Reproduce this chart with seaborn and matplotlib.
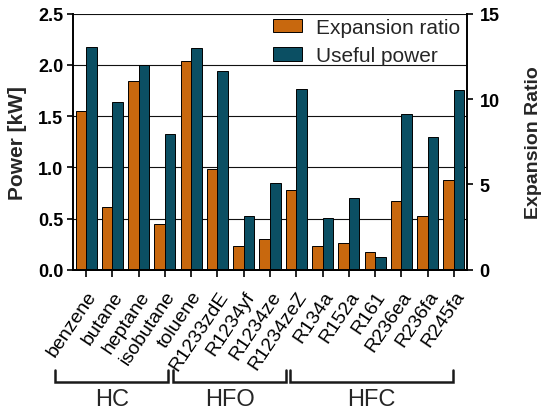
import numpy as np
import pandas as pd
import matplotlib
matplotlib.use("Agg")
import matplotlib.pyplot as plt
import seaborn as sns
from matplotlib.patches import Patch
from matplotlib.transforms import blended_transform_factory

# ---- data ----
fluids = ["benzene", "butane", "heptane", "isobutane", "toluene",
          "R1233zdE", "R1234yf", "R1234ze", "R1234zeZ",
          "R134a", "R152a", "R161", "R236ea", "R236fa", "R245fa"]
useful_power = [2.175, 1.638, 1.996, 1.325, 2.165,
                1.94, 0.521, 0.846, 1.768,
                0.505, 0.70, 0.124, 1.517, 1.296, 1.752]
expansion_ratio = [9.32, 3.67, 11.04, 2.66, 12.21,
                   5.92, 1.39, 1.82, 4.67,
                   1.37, 1.55, 1.02, 4.0, 3.13, 5.25]
groups = ["HC", "HFO", "HFC"]
group_spans = [(-1.18, 3.13), (3.32, 7.60), (7.76, 13.97)]
series_names = ["Expansion ratio", "Useful power"]
left_ticks = [0.0, 0.5, 1.0, 1.5, 2.0, 2.5]
right_ticks = [0, 5, 10, 15]

ORANGE = "#C8680E"
TEAL = "#0B4F63"

sns.set_style("white")
plt.rcParams["font.family"] = ["Liberation Sans", "DejaVu Sans"]

n = len(fluids)
df = pd.DataFrame({
    "fluid": fluids * 2,
    "series": [series_names[0]] * n + [series_names[1]] * n,
    "power": [np.nan] * n + useful_power,
    "ratio": expansion_ratio + [np.nan] * n,
})
palette = {series_names[0]: ORANGE, series_names[1]: TEAL}

fig = plt.figure(figsize=(5.45, 4.14), dpi=100)
ax = fig.add_axes([73 / 545, 1 - 270.7 / 414, 394 / 545, 256 / 414])
ax2 = ax.twinx()

common = dict(x="fluid", hue="series", hue_order=series_names, order=fluids,
              palette=palette, edgecolor="black", linewidth=0.7,
              saturation=1, legend=False, errorbar=None, width=0.8)
sns.barplot(data=df, y="power", ax=ax, **common)
sns.barplot(data=df, y="ratio", ax=ax2, **common)

ax.set_xlim(-0.5, n - 0.5)
ax.set_ylim(0, 2.5)
ax2.set_ylim(0, 15)
ax.set_yticks(left_ticks)
ax.set_yticklabels([f"{t:.1f}" for t in left_ticks])
ax2.set_yticks(right_ticks)
ax2.set_yticklabels([str(t) for t in right_ticks])

ax.yaxis.grid(True, color="#111111", linewidth=0.8)
ax.xaxis.grid(False)
ax.set_axisbelow(True)

for a in (ax, ax2):
    for s in ("left", "right", "bottom"):
        a.spines[s].set_visible(True)
        a.spines[s].set_color("black")
        a.spines[s].set_linewidth(1.4)
    a.spines["top"].set_visible(False)

ax.spines["right"].set_visible(False)
ax2.spines["left"].set_visible(False)

ax.tick_params(axis="y", direction="out", length=4.5, width=1.2, pad=2.5,
               labelsize=13, colors="black")
for lbl in ax.get_yticklabels():
    lbl.set_fontweight("bold")
ax2.tick_params(axis="y", direction="out", length=4, width=1.2, pad=5,
                labelsize=13, colors="black")
for lbl in ax2.get_yticklabels():
    lbl.set_fontweight("bold")

ax.tick_params(axis="x", direction="out", length=5, width=1.2, pad=8,
               labelsize=14, colors="black", bottom=True)
ax.set_xticks(range(n))
ax.set_xticklabels(fluids, rotation=56, ha="right", va="top",
                   rotation_mode="anchor")
ax.set_xlabel("")

ax.set_ylabel("Power [kW]", fontsize=15, fontweight="bold")
ax.yaxis.label.set_va("center")
ax.yaxis.set_label_coords(-0.141, 0.5)
ax2.set_ylabel("Expansion Ratio", fontsize=14, fontweight="bold")
ax2.yaxis.label.set_va("center")
ax2.yaxis.set_label_coords(1.169, 0.5)

# group brackets
blend = blended_transform_factory(ax.transData, ax.transAxes)
y_top, y_bot, y_txt = -0.392, -0.4387, -0.505
for name, (x0, x1) in zip(groups, group_spans):
    ax.plot([x0, x0, x1, x1], [y_top, y_bot, y_bot, y_top], transform=blend,
            color="#1a1a1a", linewidth=1.8, clip_on=False,
            solid_joinstyle="miter")
    ax.text((x0 + x1) / 2, y_txt, name, transform=blend, ha="center",
            va="center", fontsize=17)

handles = [Patch(facecolor=palette[s], edgecolor="black", linewidth=0.7)
           for s in series_names]
ax2.legend(handles, series_names, loc="upper left", bbox_to_anchor=(0.507, 0.984),
           frameon=False, fontsize=15, borderpad=0, borderaxespad=0,
           handlelength=1.38, handleheight=0.62, handletextpad=0.7,
           labelspacing=0.45)

fig.savefig("out.png", dpi=100)
